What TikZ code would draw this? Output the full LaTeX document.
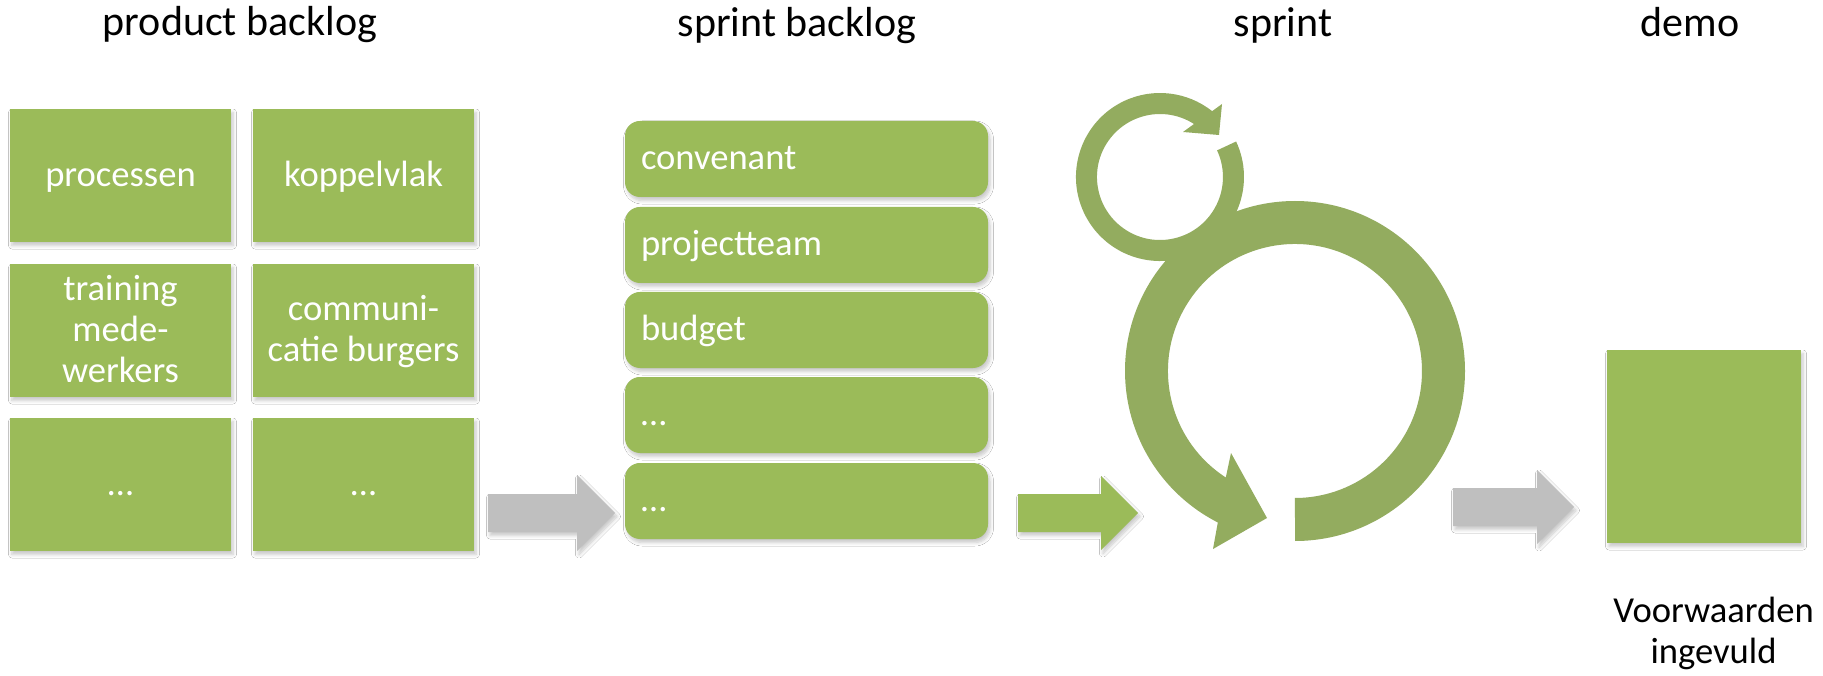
\documentclass[tikz,border=0pt]{standalone}
\usepackage{fontspec}
\setmainfont{Carlito}
\usetikzlibrary{shadows.blur}
\definecolor{boxgreen}{HTML}{9BBB59}
\definecolor{ringgreen}{HTML}{93AC5F}
\definecolor{arrowgray}{HTML}{BFBFBF}
\newcommand\lbl[1]{\rule{0pt}{0.8em}#1\rule[-0.22em]{0pt}{0.22em}}
\newcommand\bodyfont{\fontsize{36.6pt}{41pt}\selectfont}
\newcommand\headfont{\fontsize{42pt}{50pt}\selectfont}
\begin{document}
\begin{tikzpicture}[x=1pt,y=1pt,
  shd/.style={blur shadow={shadow xshift=2pt,shadow yshift=-3.5pt,shadow blur steps=6,shadow blur radius=3.5pt,shadow opacity=22}},
  pbox/.style={fill=boxgreen, shd, minimum width=221pt, minimum height=133pt, inner sep=0pt, align=center, text=white, font=\bodyfont},
  sbox/.style={fill=boxgreen, shd, rounded corners=15pt, minimum height=76pt, text width=331pt, inner xsep=16pt, inner ysep=0pt, align=left, text=white, font=\bodyfont},
  head/.style={anchor=base, inner sep=0pt, font=\headfont, text=black},
  grayarrow/.style={fill=arrowgray, shd},
  greenarrow/.style={fill=boxgreen, shd},
  ring/.style={fill=ringgreen}
]
\useasboundingbox (0,0) rectangle (1823,-676);
\fill[white] (0,0) rectangle (1823,-676);

% headers
\node[head] (h1) at (240,-36) {product backlog};
\node[head] (h2) at (797,-37) {sprint backlog};
\node[head] (h3) at (1283,-37) {sprint};
\node[head] (h4) at (1690,-37) {demo};

% product backlog
\node[pbox] (pb1) at (120.5,-175.5) {\lbl{processen}};
\node[pbox] (pb2) at (363.5,-175.5) {\lbl{koppelvlak}};
\node[pbox] (pb3) at (120.5,-330.5) {\lbl{training\\mede-\\werkers}};
\node[pbox] (pb4) at (363.5,-330.5) {\lbl{communi-\\catie burgers}};
\node[pbox] (pb5) at (120.5,-484.5) {\lbl{…}};
\node[pbox] (pb6) at (363.5,-484.5) {\lbl{…}};

% sprint backlog
\node[sbox] (sb1) at (806.5,-159) {\lbl{convenant}};
\node[sbox] (sb2) at (806.5,-245) {\lbl{projectteam}};
\node[sbox] (sb3) at (806.5,-330) {\lbl{budget}};
\node[sbox] (sb4) at (806.5,-415) {\lbl{…}};
\node[sbox] (sb5) at (806.5,-501) {\lbl{…}};

% block arrows
\fill[grayarrow] (488,-494) -- (577,-494) -- (577,-475) -- (615,-513) -- (577,-551) -- (577,-532) -- (488,-532) -- cycle;
\fill[greenarrow] (1018,-494) -- (1101,-494) -- (1101,-476) -- (1138,-513) -- (1101,-550) -- (1101,-532) -- (1018,-532) -- cycle;
\fill[grayarrow] (1453,-488) -- (1537,-488) -- (1537,-470) -- (1574,-507) -- (1537,-544) -- (1537,-526) -- (1453,-526) -- cycle;

% big circular arrow
\fill[ring] (1295,-541) arc[start angle=-90, end angle=243, radius=170]
  -- (1213,-549) -- (1267,-518) -- (1231,-453) -- (1225.8,-477.5)
  arc[start angle=237, end angle=-90, radius=127] -- cycle;

% small circular arrow
\fill[ring] (1236.1,-141.5) arc[start angle=25, end angle=-308.4, radius=84]
  -- (1222,-104) -- (1219,-135) -- (1183,-132) -- (1194.0,-124.0)
  arc[start angle=-302.7, end angle=25, radius=63] -- cycle;

% demo
\node[fill=boxgreen, shd, minimum width=194pt, minimum height=193pt, inner sep=0pt] (demo) at (1704,-446.5) {};
\node[align=center, inner sep=0pt, font=\bodyfont, text=black] (vw) at (1713.5,-632) {\lbl{Voorwaarden\\ingevuld}};
\end{tikzpicture}
\end{document}
